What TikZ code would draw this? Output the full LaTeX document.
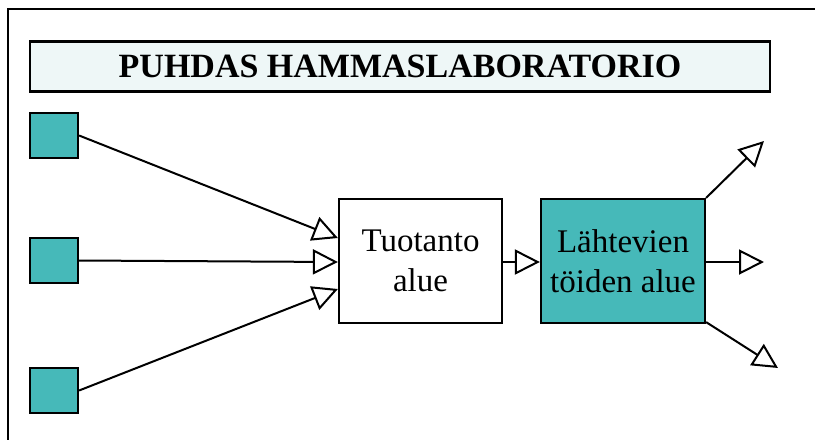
\documentclass[tikz,border=0pt]{standalone}
\usepackage{fontspec}
\setmainfont{Liberation Serif}
\usepackage{tikz}
\usetikzlibrary{positioning}
\usetikzlibrary{arrows.meta}

\definecolor{tealfill}{RGB}{70,185,185}
\definecolor{titlefill}{RGB}{238,247,247}

\begin{document}
\begin{tikzpicture}[x=1pt, y=-1pt,
    box/.style={draw, line width=2.2pt, inner sep=0pt, align=center,
        font=\fontsize{33}{39.6}\selectfont},
    inbox/.style={draw, line width=2.2pt, fill=tealfill, inner sep=0pt,
        minimum width=48pt, minimum height=45pt},
    flow/.style={line width=2pt, -{Triangle[open, length=25pt, width=25pt, line width=2pt]}}]

                \useasboundingbox (0,0) rectangle (815,440);

                % Frame
                \draw[line width=2.4pt] (815,9) -- (8,9) -- (8,440);

                % Nodes
                \node at (400,66.5) (title) [draw, line width=2.2pt, fill=titlefill, minimum width=740pt, minimum height=50pt, inner sep=0pt, font=\fontsize{34}{40}\selectfont\bfseries] {PUHDAS HAMMASLABORATORIO};
                \node at (54,135.5) (in1) [inbox] {};
                \node at (54,260.5) (in2) [inbox] {};
                \node at (54,390.5) (in3) [inbox] {};
                \node at (420.5,261) (prod) [box, minimum width=163pt, minimum height=124pt, fill=white] {Tuotanto\\alue};
                \node at (623,261) (out) [box, minimum width=164pt, minimum height=124pt, fill=tealfill] {Lähtevien\\töiden alue};
                \coordinate (up) at (764,141);
                \coordinate (right) at (764,262);
                \coordinate (down) at (778,368);

                % Arrows
                \draw[flow] (in1.east) -- ([yshift=23pt]prod.west);
                \draw[flow] (in2.east) -- ([yshift=-1pt]prod.west);
                \draw[flow] (in3.east) -- ([yshift=-28pt]prod.west);
                \draw[flow] ([yshift=-1pt]prod.east) -- ([yshift=-1pt]out.west);
                \draw[flow] (out.north east) -- (up);
                \draw[flow] ([yshift=-1pt]out.east) -- (right);
                \draw[flow] ([yshift=2pt]out.south east) -- (down);

\end{tikzpicture}
\end{document}
